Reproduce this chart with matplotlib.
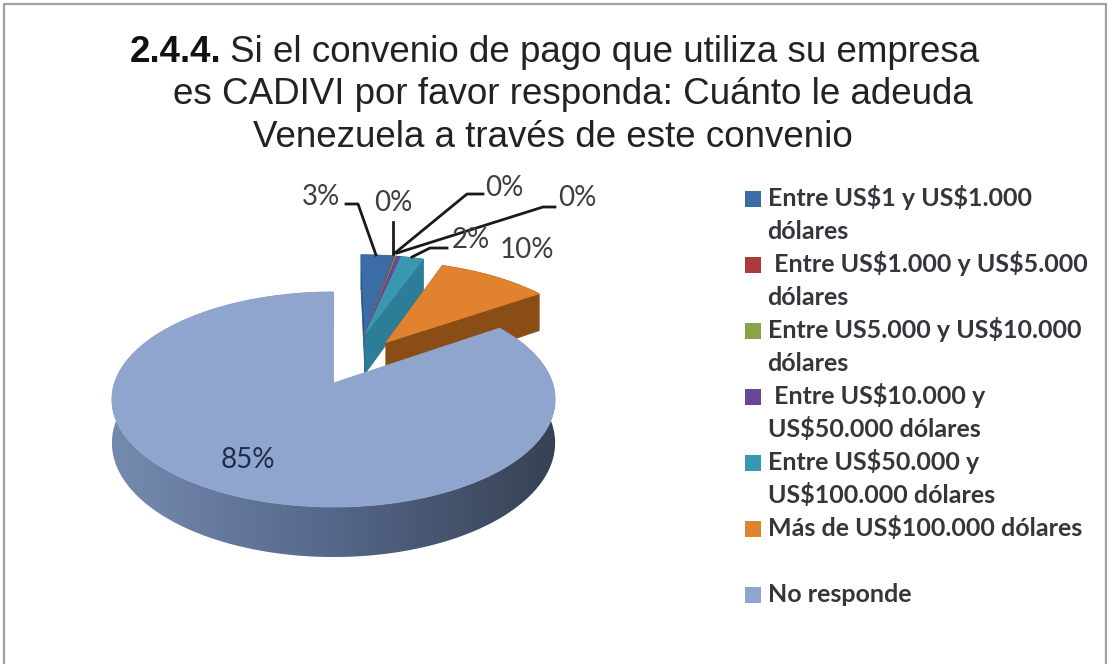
import matplotlib
matplotlib.use('Agg')
import matplotlib.pyplot as plt
import numpy as np
from matplotlib.colors import LinearSegmentedColormap
from matplotlib.patches import Polygon

categorias = [
    ['Entre US$1 y US$1.000', 'dólares'],
    [' Entre US$1.000 y US$5.000', 'dólares'],
    ['Entre US5.000 y US$10.000', 'dólares'],
    [' Entre US$10.000 y', 'US$50.000 dólares'],
    ['Entre US$50.000 y', 'US$100.000 dólares'],
    ['Más de US$100.000 dólares'],
    ['', 'No responde'],
]
valores = [3.0, 0.1, 0.1, 0.4, 2.0, 9.8, 84.6]
colores = ['#3B6CA6', '#A93B3A', '#87A447', '#66479A', '#3A97B2', '#E0822F', '#8FA5CE']
laterales = ['#2C5586', '#7F2D2C', '#66803A', '#4F3679', '#2C7D98', '#8A4D16', '#55678A']

# perspectiva del disco
CX, CY = 333.5, 383
ESC_X, ESC_Y = 219, 105
K = 0.153
PROF = 42.4

# desplazamiento de cada porcion respecto al centro del disco
grupo = (0.155, 0.50)
desplazamientos = [grupo, grupo, grupo, grupo, grupo, (0.255, 0.41), (0.0, 0.0)]

degradado = LinearSegmentedColormap.from_list('lado', ['#748BB0', '#55678A', '#364152'])


def proyectar(u, v):
    w = 1 + K * v
    return CX + ESC_X * u / w, CY - ESC_Y * v / w, PROF / w


def cubrir(ax, xs, ys, color):
    ax.fill(xs, ys, color=color, lw=0.6, zorder=2)


def porcion(ax, ini, fin, offset, color, lateral, con_degradado=False):
    du, dv = offset
    th = np.radians(np.arange(ini, fin + 0.5, 0.5))
    th[-1] = np.radians(fin)
    u = du + np.sin(th)
    v = dv + np.cos(th)
    x, y, caida = proyectar(u, v)
    x0, y0, c0 = proyectar(np.array([du]), np.array([dv]))

    if con_degradado:
        # borde exterior con degradado horizontal
        borde = Polygon(np.c_[np.r_[x, x[::-1]], np.r_[y, (y + caida)[::-1]]],
                        transform=ax.transData)
        img = ax.imshow(np.linspace(0, 1, 256).reshape(1, -1), cmap=degradado, aspect='auto',
                        extent=[x.min(), x.max(), (y + caida).max(), y.min()], zorder=2)
        img.set_clip_path(borde)
    else:
        # paredes radiales y borde exterior
        for i in (0, -1):
            cubrir(ax, [x0[0], x[i], x[i], x0[0]],
                   [y0[0], y[i], y[i] + caida[i], y0[0] + c0[0]], lateral)
        cubrir(ax, np.r_[x, x[::-1]], np.r_[y, (y + caida)[::-1]], lateral)

    # cara superior
    cubrir(ax, np.r_[x0, x], np.r_[y0, y], color)


fig = plt.figure(figsize=(11.07, 6.64), dpi=100)
ax = fig.add_axes([0, 0, 1, 1])

# marco del grafico
ax.plot([4, 4, 1106, 1106], [664, 4, 4, 664], color='#a0a0a0', lw=1.6, zorder=1)

# titulo
FUENTE_TIT = 'Liberation Sans'
ax.text(130, 62, '2.4.4.', fontsize=26.5, fontweight='bold', family=FUENTE_TIT, color='#111111')
ax.text(230, 62, 'Si el convenio de pago que utiliza su empresa', fontsize=26.5,
        family=FUENTE_TIT, color='#222222')
ax.text(173, 104, 'es CADIVI por favor responda: Cuánto le adeuda', fontsize=26.5,
        family=FUENTE_TIT, color='#222222')
ax.text(253, 147, 'Venezuela a través de este convenio', fontsize=26.5,
        family=FUENTE_TIT, color='#222222')

# porciones: primero las del fondo, el disco principal al final
angulos = np.r_[0, np.cumsum(valores)] / sum(valores) * 360
for i in range(len(valores)):
    porcion(ax, angulos[i], angulos[i + 1], desplazamientos[i], colores[i], laterales[i],
            con_degradado=i == len(valores) - 1)

# etiquetas de porcentaje
etiquetas = [f'{p:.0f}%' for p in valores]
FUENTE = 'Lato'
pos_etiquetas = [(321, 197), (393, 203), (504, 188), (577, 198), (471, 240), (527, 250), (248, 460)]
for i, (xt, yt) in enumerate(pos_etiquetas):
    ax.text(xt, yt, etiquetas[i], fontsize=20, family=FUENTE, ha='center', va='center',
            color='#1f2d4d' if i == 6 else '#3c3f45', zorder=4)

# lineas guia
guias = [
    ([346, 358, 376], [204, 204, 255]),
    ([393, 393], [222, 254]),
    ([483, 467, 395], [194, 194, 253]),
    ([555, 543, 397], [207, 207, 253]),
    ([447, 430, 412], [248, 248, 257]),
]
for xs, ys in guias:
    ax.plot(xs, ys, color='#1a1a1a', lw=2, zorder=3)

# leyenda
y_linea = 206
for color, lineas in zip(colores, categorias):
    for n, linea in enumerate(lineas):
        if n == 0 and linea == '':
            y_linea += 33
            continue
        if n == 0 or lineas[0] == '':
            ax.scatter([752.5], [y_linea - 7], marker='s', s=135, color=color, lw=0, zorder=3)
        ax.text(767.5, y_linea, linea, fontsize=18, family=FUENTE, fontweight='bold',
                va='baseline', color='#33363b', zorder=4, parse_math=False)
        y_linea += 33

ax.set_xlim(0, 1107)
ax.set_ylim(664, 0)
ax.axis('off')

fig.savefig('out.png', dpi=100)
